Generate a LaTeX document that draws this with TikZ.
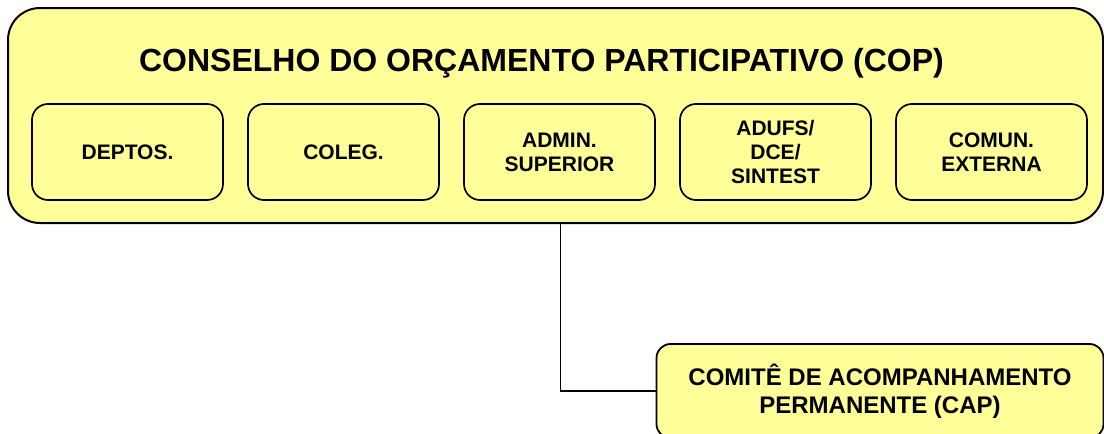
\documentclass[tikz,border=0pt]{standalone}
\usepackage{fontspec}
\setmainfont{Liberation Sans}
\definecolor{paleyellow}{RGB}{255,255,153}
\def\groups{{127.5/deptos/{DEPTOS.}}, {343.5/coleg/{COLEG.}}, {559.5/admin/{ADMIN.\\SUPERIOR}}, {775.5/adufs/{ADUFS/\\DCE/\\SINTEST}}, {991.5/comun/{COMUN.\\EXTERNA}}}
\tikzstyle{council}=[draw, line width=2pt, fill=paleyellow, rounded corners=32pt, minimum width=1095pt, minimum height=215pt, inner sep=0pt]
\tikzstyle{group}=[draw, line width=1.7pt, fill=paleyellow, rounded corners=16pt, minimum width=191pt, minimum height=96pt, inner sep=0pt, align=center, font=\bfseries\fontsize{21}{24}\selectfont]
\tikzstyle{committee}=[draw, line width=1.8pt, fill=paleyellow, rounded corners=14pt, minimum width=447pt, minimum height=94pt, inner sep=0pt, align=center, font=\bfseries\fontsize{24}{28}\selectfont]
\tikzstyle{title}=[anchor=base, inner sep=0pt, font=\bfseries\fontsize{32}{36}\selectfont]
\tikzstyle{edge}=[draw, line width=1.6pt, -]

\begin{document}
\begin{tikzpicture}[x=1pt, y=-1pt]
  \useasboundingbox (0,0) rectangle (1104,434);
  \clip (0,0) rectangle (1104,434);

  % The council and its title
  \node[council] (cop) at (555.5,115.5) {};
  \node[title] (coptitle) at (541.5,71) {CONSELHO DO ORÇAMENTO PARTICIPATIVO (COP)};

  % The groups inside the council
  \foreach \x/\name/\txt in \groups {
    \node[group] (\name) at (\x,152) {\txt};
  }

  % The committee, below on the right
  \node[committee] (cap) at (880,391) {COMITÊ DE ACOMPANHAMENTO\\PERMANENTE (CAP)};

  \path[edge] ([xshift=5pt]cop.south) |- (cap.west);
\end{tikzpicture}
\end{document}
